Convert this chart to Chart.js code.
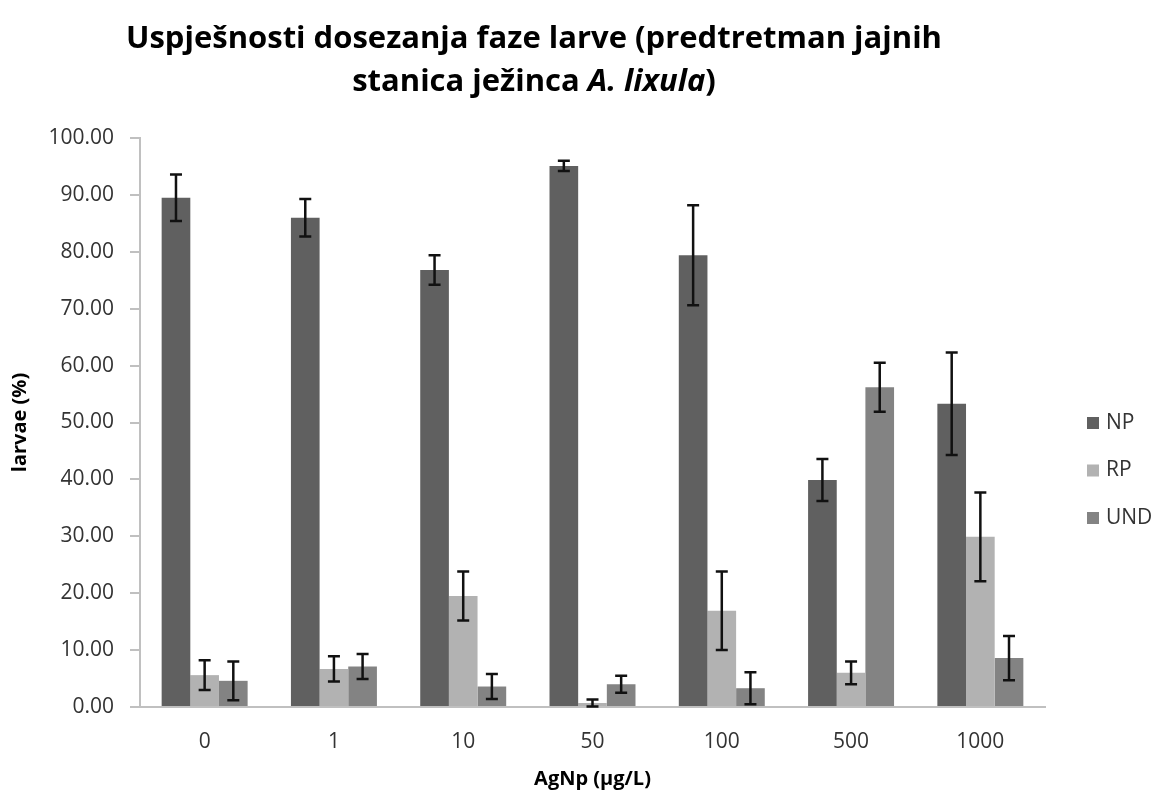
<!DOCTYPE html>
<html>
<head>
<meta charset="utf-8">
<script src="https://cdn.jsdelivr.net/npm/chart.js@4.4.0/dist/chart.umd.min.js"></script>
<style>
  body { margin: 0; background: #fff; }
  #wrap { width: 1157px; height: 792px; }
</style>
</head>
<body>
<div id="wrap"><canvas id="myChart" width="1157" height="792"></canvas></div>
<script>
const categories = ['0', '1', '10', '50', '100', '500', '1000'];
const seriesNames = ['NP', 'RP', 'UND'];
const npValues = [89.5, 86.0, 76.8, 95.1, 79.4, 39.9, 53.3];
const npErrors = [4.1, 3.3, 2.6, 0.9, 8.8, 3.7, 9.0];
const rpValues = [5.6, 6.7, 19.5, 0.7, 16.9, 6.0, 29.9];
const rpErrors = [2.6, 2.2, 4.3, 0.6, 6.9, 2.0, 7.8];
const undValues = [4.6, 7.1, 3.6, 4.0, 3.3, 56.2, 8.6];
const undErrors = [3.4, 2.2, 2.2, 1.5, 2.8, 4.3, 3.9];
const yTicks = [0, 10, 20, 30, 40, 50, 60, 70, 80, 90, 100];

const colors = ['#606060', '#b2b2b2', '#838383'];
const FONT = '"Open Sans", "DejaVu Sans", sans-serif';

// error bars drawn on top of each bar
const errorBars = {
  id: 'errorBars',
  afterDatasetsDraw(chart) {
    const ctx = chart.ctx;
    const y = chart.scales.y;
    ctx.save();
    ctx.strokeStyle = '#111';
    ctx.lineWidth = 2.5;
    chart.data.datasets.forEach((ds, i) => {
      const meta = chart.getDatasetMeta(i);
      meta.data.forEach((bar, j) => {
        const v = ds.data[j], e = ds.errors[j];
        const top = y.getPixelForValue(v + e);
        const bot = y.getPixelForValue(Math.max(v - e, 0));
        ctx.beginPath();
        ctx.moveTo(bar.x, top); ctx.lineTo(bar.x, bot);
        ctx.moveTo(bar.x - 6, top); ctx.lineTo(bar.x + 6, top);
        ctx.moveTo(bar.x - 6, bot); ctx.lineTo(bar.x + 6, bot);
        ctx.stroke();
      });
    });
    ctx.restore();
  }
};

// two-line title (with italic species name) and the legend on the right
const titleAndLegend = {
  id: 'titleAndLegend',
  afterDraw(chart) {
    const ctx = chart.ctx;
    ctx.save();
    ctx.fillStyle = '#000';
    ctx.textBaseline = 'alphabetic';
    const cx = 534;
    const bold = 'bold 31px ' + FONT;
    const boldIt = 'italic bold 31px ' + FONT;
    ctx.font = bold;
    ctx.textAlign = 'center';
    ctx.fillText('Uspješnosti dosezanja faze larve (predtretman jajnih', cx, 48);

    const parts = [['stanica ježinca ', bold], ['A. lixula', boldIt], [')', bold]];
    let total = 0;
    parts.forEach(p => { ctx.font = p[1]; total += ctx.measureText(p[0]).width; });
    let x = cx - total / 2;
    ctx.textAlign = 'left';
    parts.forEach(p => {
      ctx.font = p[1];
      ctx.fillText(p[0], x, 91);
      x += ctx.measureText(p[0]).width;
    });

    // legend
    ctx.font = '21px ' + FONT;
    ctx.textBaseline = 'middle';
    seriesNames.forEach((name, i) => {
      const ly = 423 + i * 47.5;
      ctx.fillStyle = colors[i];
      ctx.fillRect(1087, ly - 6, 12, 12);
      ctx.fillStyle = '#333';
      ctx.fillText(name, 1106, ly);
    });
    ctx.restore();
  }
};

const datasets = [
  { label: seriesNames[0], data: npValues, errors: npErrors, backgroundColor: colors[0] },
  { label: seriesNames[1], data: rpValues, errors: rpErrors, backgroundColor: colors[1] },
  { label: seriesNames[2], data: undValues, errors: undErrors, backgroundColor: colors[2] },
];

new Chart(document.getElementById('myChart'), {
  type: 'bar',
  data: { labels: categories, datasets },
  options: {
    responsive: false,
    animation: false,
    devicePixelRatio: 1,
    layout: { padding: { top: 138, right: 112, left: 0, bottom: 0 } },
    datasets: { bar: { categoryPercentage: 0.665, barPercentage: 1.0 } },
    plugins: {
      legend: { display: false },
      title: { display: false },
      tooltip: { enabled: false },
    },
    scales: {
      x: {
        grid: { display: false, drawTicks: false },
        border: { display: true, color: '#c0c0c0', width: 2 },
        ticks: { color: '#333', font: { family: FONT, size: 21 }, padding: 22 },
        title: {
          display: true, text: 'AgNp (µg/L)', color: '#000',
          font: { family: FONT, size: 20, weight: 'bold' }, padding: { top: 0, bottom: 1 }
        },
        afterFit(scale) { scale.height = 85; }
      },
      y: {
        min: 0, max: 100,
        afterBuildTicks(scale) { scale.ticks = yTicks.map(v => ({ value: v })); },
        grid: { drawOnChartArea: false, color: '#c0c0c0', lineWidth: 2, tickLength: 10 },
        border: { display: true, color: '#c0c0c0', width: 2 },
        ticks: {
          color: '#333', font: { family: FONT, size: 21 }, padding: 16,
          callback: v => Number(v).toFixed(2)
        },
        title: {
          display: true, text: 'larvae (%)', color: '#000',
          font: { family: FONT, size: 20, weight: 'bold' }, padding: { top: 8, bottom: 0 }
        },
        afterFit(scale) { scale.width = 140; }
      }
    }
  },
  plugins: [errorBars, titleAndLegend]
});
</script>
</body>
</html>
